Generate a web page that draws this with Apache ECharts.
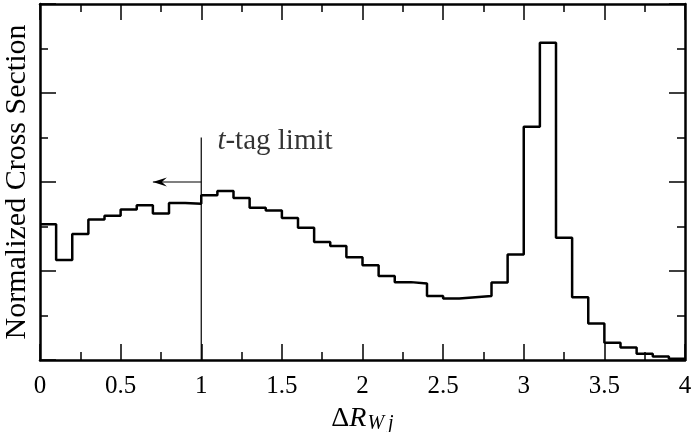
<!DOCTYPE html>
<html>
<head>
<meta charset="utf-8">
<script src="https://cdn.jsdelivr.net/npm/echarts@6/dist/echarts.min.js"></script>
<style>
  html, body { margin: 0; padding: 0; background: #fff; }
  #hist { width: 699px; height: 432px; }
</style>
</head>
<body>
<div id="hist"></div>
<script>
// bin left edges (width 0.1) and last right edge
var binEdges = [0.0, 0.1, 0.2, 0.3, 0.4, 0.5, 0.6, 0.7, 0.8, 0.9,
                1.0, 1.1, 1.2, 1.3, 1.4, 1.5, 1.6, 1.7, 1.8, 1.9,
                2.0, 2.1, 2.2, 2.3, 2.4, 2.5, 2.6, 2.7, 2.8, 2.9,
                3.0, 3.1, 3.2, 3.3, 3.4, 3.5, 3.6, 3.7, 3.8, 3.9, 4.0];
// normalized cross section per bin (arbitrary units)
var binValues = [3.05, 2.25, 2.83, 3.16, 3.24, 3.38, 3.48, 3.29, 3.53, 3.51,
                 3.70, 3.80, 3.64, 3.42, 3.36, 3.19, 2.97, 2.65, 2.56, 2.31,
                 2.13, 1.89, 1.75, 1.72, 1.44, 1.38, 1.41, 1.44, 1.74, 2.37,
                 5.24, 7.13, 2.75, 1.41, 0.82, 0.39, 0.28, 0.14, 0.08, 0.03];
var xTicks = ['0', '0.5', '1', '1.5', '2', '2.5', '3', '3.5', '4'];

// t-tag limit annotation
var limitX = 1.0;
var limitTop = 5.0;
var arrowY = 4.0;
var arrowEnd = 0.70;
var labelPos = [1.10, 4.92];

initHist();

function initHist() {
    var chart = echarts.init(document.getElementById('hist'));
    var font = 'Liberation Serif';

    var steps = [];
    for (var i = 0; i < binValues.length; i++) {
        steps.push([binEdges[i], binValues[i]]);
    }
    steps.push([binEdges[binEdges.length - 1], binValues[binValues.length - 1]]);

    // frame axis, ticks inside on all four sides
    function frameAxis(pos, isX, showLabel) {
        var ax = {
            type: 'value',
            position: pos,
            min: 0,
            max: isX ? 4 : 8,
            interval: isX ? 0.5 : 2,
            splitLine: { show: false },
            axisLine: { show: true, onZero: false, lineStyle: { color: '#000', width: 2.5 } },
            axisTick: { show: true, inside: true, length: 16, lineStyle: { color: '#000', width: 1.5 } },
            minorTick: { show: true, splitNumber: 2, length: 8, lineStyle: { color: '#000', width: 1.5 } },
            axisLabel: { show: false }
        };
        if (showLabel) {
            ax.axisLabel = {
                show: true,
                margin: 14,
                color: '#000',
                fontFamily: font,
                fontSize: 25,
                formatter: function (v) {
                    return xTicks[Math.round(v / 0.5)];
                }
            };
        }
        return ax;
    }

    var xBottom = frameAxis('bottom', true, true);
    xBottom.name = '{d|Δ}{r|R}{s|W\u2009j}';
    xBottom.nameLocation = 'middle';
    xBottom.nameGap = 33;
    xBottom.nameTextStyle = {
        rich: {
            d: { fontFamily: font, fontSize: 28, color: '#000', lineHeight: 30 },
            r: { fontFamily: font, fontSize: 28, fontStyle: 'italic', color: '#000', lineHeight: 30 },
            s: { fontFamily: font, fontSize: 20, fontStyle: 'italic', color: '#000', lineHeight: 22,
                 verticalAlign: 'bottom', padding: [10, 0, 0, 1] }
        }
    };
    var xTop = frameAxis('top', true, false);

    var yLeft = frameAxis('left', false, false);
    yLeft.name = 'Normalized Cross Section';
    yLeft.nameLocation = 'middle';
    yLeft.nameRotate = 90;
    yLeft.nameGap = 8;
    yLeft.nameTextStyle = { fontFamily: font, fontSize: 30, color: '#000' };
    var yRight = frameAxis('right', false, false);

    var option = {
        animation: false,
        backgroundColor: '#fff',
        grid: { left: 40, right: 14, top: 4, bottom: 72, containLabel: false, outerBoundsMode: 'none' },
        xAxis: [xBottom, xTop],
        yAxis: [yLeft, yRight],
        series: [{
            type: 'line',
            step: 'end',
            data: steps,
            symbol: 'none',
            lineStyle: { color: '#000', width: 2.5 },
            z: 5
        }, {
            type: 'line',
            data: [[limitX, 0], [limitX, limitTop]],
            symbol: 'none',
            lineStyle: { color: '#000', width: 1.2 }
        }, {
            type: 'line',
            data: [
                { value: [limitX, arrowY], symbol: 'none' },
                { value: [arrowEnd, arrowY], symbol: 'path://M0,5 L14,0 L9,5 L14,10 Z',
                  symbolSize: [14, 9], symbolOffset: [7, 0] }
            ],
            showSymbol: true,
            itemStyle: { color: '#000' },
            lineStyle: { color: '#000', width: 1.2 }
        }, {
            type: 'scatter',
            data: [labelPos],
            symbolSize: 0,
            label: {
                show: true,
                position: 'right',
                distance: 0,
                formatter: '{i|t}-tag limit',
                fontFamily: font,
                fontSize: 29,
                color: '#000',
                rich: {
                    i: { fontFamily: font, fontSize: 29, fontStyle: 'italic', color: '#000' }
                }
            }
        }]
    };
    chart.setOption(option);
}
</script>
</body>
</html>
